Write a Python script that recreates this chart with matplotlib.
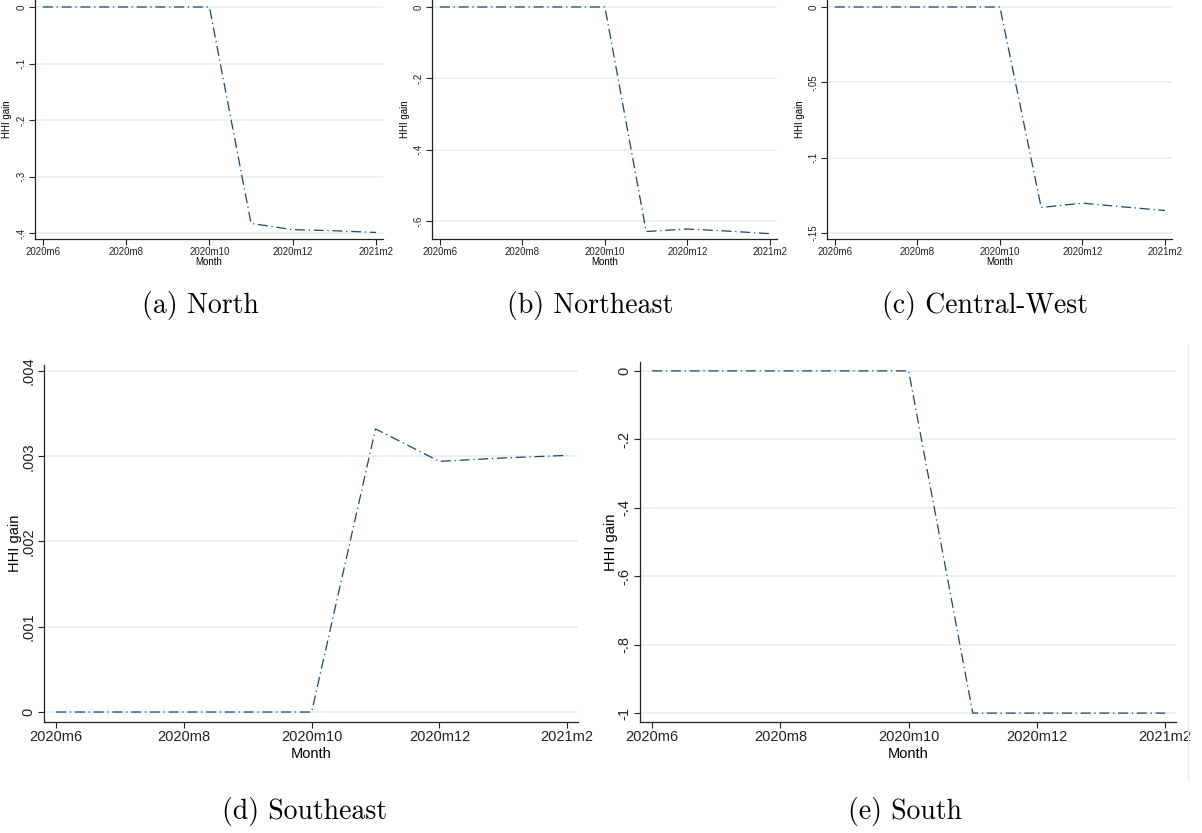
import numpy as np
import matplotlib
matplotlib.use("Agg")
import matplotlib.pyplot as plt

plt.rcParams['font.family'] = ['Liberation Sans', 'DejaVu Sans']

# months 2020m6 .. 2021m2
months = ['2020m6', '2020m7', '2020m8', '2020m9', '2020m10',
          '2020m11', '2020m12', '2021m1', '2021m2']
month_ticks = ['2020m6', '2020m8', '2020m10', '2020m12', '2021m2']

# HHI gain by region
north = [0, 0, 0, 0, 0, -0.383, -0.394, -0.396, -0.399]
northeast = [0, 0, 0, 0, 0, -0.629, -0.622, -0.628, -0.635]
central_west = [0, 0, 0, 0, 0, -0.1331, -0.1302, -0.1327, -0.1351]
southeast = [0, 0, 0, 0, 0, 0.00332, 0.00294, 0.00298, 0.00301]
south = [0, 0, 0, 0, 0, -1.0, -1.0, -1.0, -1.0]

north_ticks = [0, -0.1, -0.2, -0.3, -0.4]
north_labels = ['0', '-.1', '-.2', '-.3', '-.4']
northeast_ticks = [0, -0.2, -0.4, -0.6]
northeast_labels = ['0', '-.2', '-.4', '-.6']
cw_ticks = [0, -0.05, -0.1, -0.15]
cw_labels = ['0', '-.05', '-.1', '-.15']
se_ticks = [0, 0.001, 0.002, 0.003, 0.004]
se_labels = ['0', '.001', '.002', '.003', '.004']
south_ticks = [0, -0.2, -0.4, -0.6, -0.8, -1.0]
south_labels = ['0', '-.2', '-.4', '-.6', '-.8', '-1']

captions = ['(a) North', '(b) Northeast', '(c) Central-West',
            '(d) Southeast', '(e) South']

W, H = 1202, 833
LINE = '#1a476f'
GRID = '#e6eff1'

fig = plt.figure(figsize=(W / 100, H / 100), dpi=100)


def px_axes(left, top, right, bottom):
    return fig.add_axes([left / W, 1 - bottom / H, (right - left) / W, (bottom - top) / H])


def panel(ax, y, yticks, ylabels, ylim, fs, xpad, ypad):
    x = np.arange(len(months))
    ax.plot(x, y, color=LINE, lw=0.9, dashes=(8, 3, 1, 3), zorder=3)
    ax.set_xlim(-0.19, 8.17)
    ax.set_ylim(*ylim)
    ax.set_xticks([months.index(m) for m in month_ticks])
    ax.set_xticklabels(month_ticks, fontsize=fs)
    ax.set_yticks(yticks)
    ax.set_yticklabels(ylabels, fontsize=fs, rotation=90, va='center')
    for t in yticks:
        ax.axhline(t, color=GRID, lw=1.2, zorder=1)
    for s in ['top', 'right']:
        ax.spines[s].set_visible(False)
    for s in ['left', 'bottom']:
        ax.spines[s].set_color('#222222')
        ax.spines[s].set_linewidth(0.9)
    ax.tick_params(length=4, width=0.8, pad=2, colors='#222222')
    ax.set_xlabel('Month', fontsize=fs, labelpad=xpad)
    ax.set_ylabel('HHI gain', fontsize=fs, labelpad=ypad)


ax = px_axes(35, 0, 383, 239)
panel(ax, north, north_ticks, north_labels, (-0.4106, 0.0124), 7, 0, 3)
ax = px_axes(432, 0, 777, 239)
panel(ax, northeast, northeast_ticks, northeast_labels, (-0.650, 0.0196), 7, 0, 3)
ax = px_axes(827, 0, 1172, 239)
panel(ax, central_west, cw_ticks, cw_labels, (-0.154, 0.00465), 7, 0, 3)
ax = px_axes(44, 365, 578, 722)
panel(ax, southeast, se_ticks, se_labels, (-0.000117, 0.00407), 10.5, 2, 0)
ax = px_axes(640, 362, 1176, 722)
panel(ax, south, south_ticks, south_labels, (-1.026, 0.026), 10.5, 2, 0)

# faint outer border of the last graph
fig.add_artist(plt.Line2D([1188 / W, 1188 / W], [1 - 345 / H, 1 - 780 / H],
                          color='#e3ebee', lw=1))

cap_pos = [(200, 305), (590, 305), (985, 305), (305, 812), (905, 812)]
for txt, (cx, cy) in zip(captions, cap_pos):
    fig.text(cx / W, 1 - cy / H, txt, ha='center', va='center',
             fontsize=20, family='cmr10')

fig.savefig('out.png', dpi=100)
